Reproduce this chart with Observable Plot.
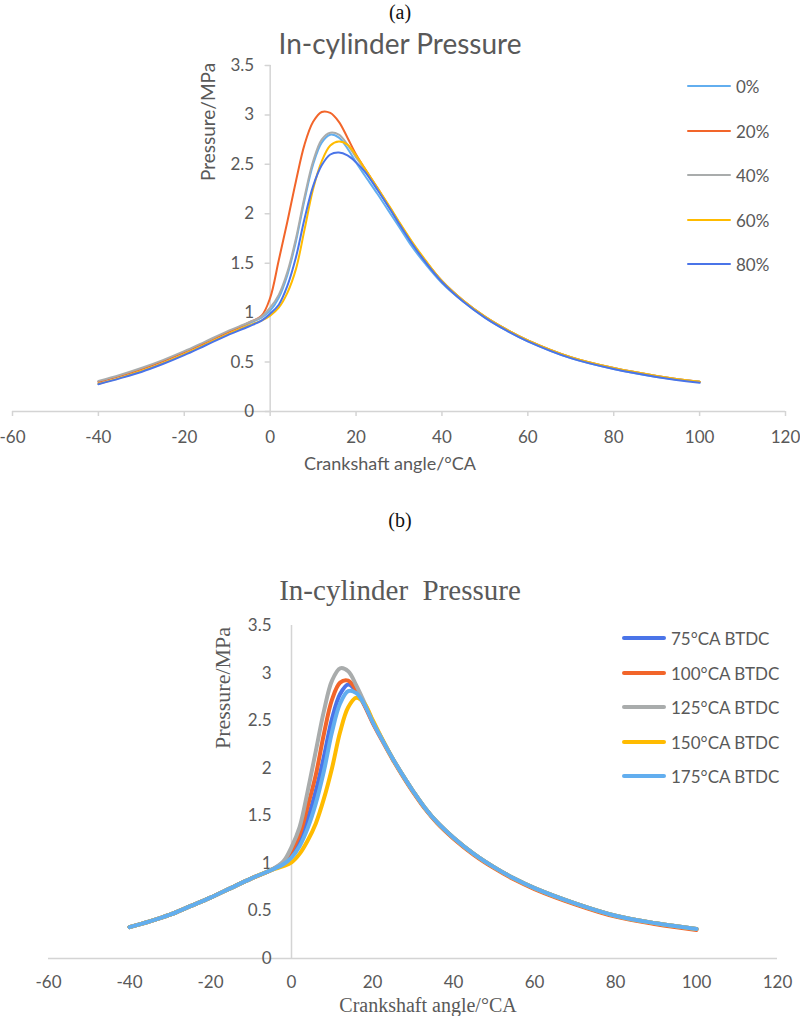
<!DOCTYPE html>
<html>
<head>
<meta charset="utf-8">
<script src="https://cdn.jsdelivr.net/npm/d3@7"></script>
<script src="https://cdn.jsdelivr.net/npm/@observablehq/plot@0.6"></script>
<style>
  html, body { margin: 0; padding: 0; background: #fff; }
  #root { position: relative; width: 800px; height: 1016px; overflow: hidden; background: #fff; }
  .lbl { position: absolute; white-space: nowrap; line-height: 1; }
  .sw { position: absolute; }
</style>
</head>
<body>
<div id="root"></div>
<script>
// ---------- shared axis data ----------
const xTicks = [-60, -40, -20, 0, 20, 40, 60, 80, 100, 120];
const yTicks = [0, 0.5, 1, 1.5, 2, 2.5, 3, 3.5];
const xs = [-40,-35,-30,-25,-20,-15,-10,-5,-2,0,2,4,6,8,10,12,14,16,18,20,22,25,28,30,33,36,40,45,50,55,60,70,80,90,100];

// ---------- chart (a) ----------
const seriesA = ["0%", "20%", "40%", "60%", "80%"];
const colorsA = ["#62AEEF", "#F2652A", "#A9ACAC", "#FFBB00", "#4A74E8"];
const a0  = [0.30,0.36,0.43,0.51,0.60,0.70,0.80,0.89,0.95,1.02,1.15,1.38,1.72,2.14,2.50,2.72,2.80,2.77,2.66,2.52,2.39,2.20,2.00,1.87,1.67,1.50,1.30,1.11,0.95,0.82,0.71,0.54,0.43,0.35,0.30];
const a20 = [0.30,0.36,0.43,0.51,0.60,0.70,0.80,0.90,0.97,1.15,1.53,1.92,2.33,2.70,2.93,3.03,3.02,2.93,2.77,2.60,2.46,2.26,2.05,1.91,1.71,1.53,1.32,1.12,0.96,0.83,0.72,0.55,0.44,0.36,0.30];
const a40 = [0.31,0.37,0.44,0.52,0.61,0.71,0.81,0.90,0.96,1.05,1.18,1.41,1.75,2.17,2.53,2.75,2.82,2.80,2.70,2.57,2.45,2.25,2.05,1.91,1.71,1.53,1.32,1.12,0.96,0.83,0.72,0.55,0.44,0.36,0.30];
const a60 = [0.28,0.34,0.41,0.49,0.58,0.68,0.78,0.87,0.92,0.97,1.05,1.20,1.44,1.84,2.25,2.53,2.69,2.73,2.70,2.59,2.46,2.26,2.06,1.92,1.72,1.54,1.32,1.12,0.96,0.83,0.72,0.55,0.44,0.36,0.30];
const a80 = [0.275,0.335,0.40,0.48,0.57,0.67,0.77,0.86,0.92,0.99,1.08,1.27,1.56,1.95,2.28,2.49,2.60,2.62,2.59,2.52,2.43,2.24,2.04,1.90,1.70,1.52,1.31,1.11,0.95,0.82,0.71,0.54,0.43,0.35,0.29];

// ---------- chart (b) ----------
const seriesB = ["75°CA BTDC", "100°CA BTDC", "125°CA BTDC", "150°CA BTDC", "175°CA BTDC"];
const colorsB = ["#4A74E8", "#F2652A", "#A9ACAC", "#FFBB00", "#62AEEF"];
const b75  = [0.33,0.39,0.46,0.55,0.64,0.74,0.84,0.93,1.00,1.10,1.24,1.47,1.76,2.12,2.52,2.78,2.88,2.81,2.67,2.49,2.33,2.10,1.89,1.76,1.58,1.43,1.27,1.10,0.96,0.84,0.74,0.58,0.45,0.37,0.31];
const b100 = [0.33,0.39,0.46,0.55,0.64,0.74,0.84,0.93,1.01,1.13,1.30,1.60,1.93,2.36,2.72,2.90,2.92,2.82,2.66,2.48,2.32,2.09,1.88,1.75,1.57,1.42,1.26,1.09,0.95,0.83,0.73,0.57,0.44,0.36,0.30];
const b125 = [0.33,0.39,0.46,0.55,0.64,0.74,0.84,0.93,1.02,1.17,1.38,1.76,2.18,2.60,2.92,3.05,3.02,2.87,2.69,2.50,2.33,2.10,1.89,1.76,1.58,1.43,1.27,1.10,0.96,0.84,0.74,0.58,0.45,0.37,0.31];
const b150 = [0.33,0.39,0.46,0.55,0.64,0.74,0.84,0.93,0.97,1.01,1.10,1.24,1.42,1.68,2.00,2.38,2.64,2.74,2.68,2.51,2.34,2.10,1.89,1.76,1.58,1.43,1.27,1.10,0.96,0.84,0.74,0.58,0.45,0.37,0.31];
const b175 = [0.33,0.39,0.46,0.55,0.64,0.74,0.84,0.93,0.99,1.06,1.18,1.37,1.63,1.97,2.38,2.68,2.81,2.79,2.67,2.49,2.33,2.10,1.89,1.76,1.58,1.43,1.27,1.10,0.96,0.84,0.74,0.58,0.45,0.37,0.31];

// ---------- styling constants ----------
const textGray = "#595959";
const axisGray = "#D4D4D4";
const sans = "Lato, 'Open Sans', sans-serif";
const serif = "'Liberation Serif', 'DejaVu Serif', serif";

function tidy(series, values) {
  return series.flatMap((s, i) => xs.map((x, j) => ({series: s, x, p: values[i][j]})));
}
const dataA = tidy(seriesA, [a0, a20, a40, a60, a80]);
const dataB = tidy(seriesB, [b75, b100, b125, b150, b175]);

const root = document.getElementById("root");
const spike = {draw(context, l) { context.moveTo(0, 0); context.lineTo(0, -l); }};

// ---------- plot (a) ----------
const plotA = Plot.plot({
  width: 800, height: 431,
  marginLeft: 12, marginRight: 15, marginTop: 15, marginBottom: 70,
  x: {domain: [-60, 120]},
  y: {domain: [0, 3.5], axis: null},
  color: {domain: seriesA, range: colorsA},
  style: {position: "absolute", left: "0px", top: "50px", background: "none", fontFamily: sans, fontSize: "17px", color: textGray, overflow: "visible"},
  marks: [
    Plot.ruleY([0], {stroke: axisGray, strokeWidth: 1.5}),
    Plot.ruleX([0], {stroke: axisGray, strokeWidth: 1.5}),
    Plot.axisX(xTicks, {anchor: "bottom", tickSize: 5, tickPadding: 14, stroke: axisGray, strokeWidth: 1.5, fill: textGray, tickFormat: d => String(d), label: null}),
    Plot.vector(yTicks, {x: 0, y: d => d, length: 5, rotate: -90, anchor: "start", shape: spike, stroke: axisGray, strokeWidth: 1.5}),
    Plot.text(yTicks, {x: 0, y: d => d, text: d => String(d), dx: -16, textAnchor: "end", fill: textGray}),
    Plot.line(dataA, {x: "x", y: "p", z: "series", stroke: "series", curve: "catmull-rom", strokeWidth: 2})
  ]
});
root.appendChild(plotA);

// ---------- plot (b) ----------
const plotB = Plot.plot({
  width: 800, height: 416,
  marginLeft: 48, marginRight: 23, marginTop: 25, marginBottom: 58,
  x: {domain: [-60, 120]},
  y: {domain: [0, 3.5], axis: null},
  color: {domain: seriesB, range: colorsB},
  style: {position: "absolute", left: "0px", top: "600px", background: "none", fontFamily: sans, fontSize: "17px", color: textGray, overflow: "visible"},
  marks: [
    Plot.ruleY([0], {stroke: axisGray, strokeWidth: 1.5}),
    Plot.ruleX([0], {stroke: axisGray, strokeWidth: 1.5}),
    Plot.axisX(xTicks, {anchor: "bottom", tickSize: 0, tickPadding: 17, fill: textGray, tickFormat: d => String(d), label: null}),
    Plot.text(yTicks, {x: 0, y: d => d, text: d => String(d), dx: -20, textAnchor: "end", fill: textGray}),
    Plot.line(dataB, {x: "x", y: "p", z: "series", stroke: "series", curve: "catmull-rom", strokeWidth: 4})
  ]
});
root.appendChild(plotB);

// ---------- html text helpers ----------
function label(text, x, y, css, anchor = "middle", rotate = 0) {
  const d = document.createElement("div");
  d.className = "lbl";
  d.textContent = text;
  d.style.left = x + "px";
  d.style.top = y + "px";
  const tx = anchor === "start" ? "0" : anchor === "end" ? "-100%" : "-50%";
  d.style.transform = `translate(${tx}, -50%)` + (rotate ? ` rotate(${rotate}deg)` : "");
  Object.assign(d.style, css);
  root.appendChild(d);
  return d;
}
function legend(series, colors, x0, lineLen, y0, step, lw, css) {
  series.forEach((s, i) => {
    const y = y0 + i * step;
    const sw = document.createElement("div");
    sw.className = "sw";
    Object.assign(sw.style, {left: x0 + "px", top: (y - lw / 2) + "px", width: lineLen + "px", height: lw + "px", background: colors[i], borderRadius: (lw / 2) + "px"});
    root.appendChild(sw);
    label(s, x0 + lineLen + 5, y, css, "start");
  });
}

// chart (a) texts
label("(a)", 400, 12, {fontFamily: serif, fontSize: "20px", color: "#111"});
label("In-cylinder Pressure", 400, 43, {fontFamily: sans, fontSize: "28px", color: textGray});
label("Pressure/MPa", 207, 122, {fontFamily: sans, fontSize: "19px", color: textGray}, "middle", -90);
label("Crankshaft angle/°CA", 390, 463, {fontFamily: sans, fontSize: "18px", color: textGray});
legend(seriesA, colorsA, 687, 44, 86, 44.5, 2, {fontFamily: sans, fontSize: "17px", color: textGray});

// chart (b) texts
label("(b)", 400, 520, {fontFamily: serif, fontSize: "20px", color: "#111"});
label("In-cylinder  Pressure", 400, 590, {fontFamily: serif, fontSize: "29px", color: textGray, whiteSpace: "pre"});
label("Pressure/MPa", 223, 688, {fontFamily: serif, fontSize: "22px", color: textGray}, "middle", -90);
label("Crankshaft angle/°CA", 428, 1005, {fontFamily: serif, fontSize: "20px", color: textGray});
legend(seriesB, colorsB, 622, 44, 638, 34.6, 4, {fontFamily: sans, fontSize: "17px", color: textGray});
</script>
</body>
</html>
